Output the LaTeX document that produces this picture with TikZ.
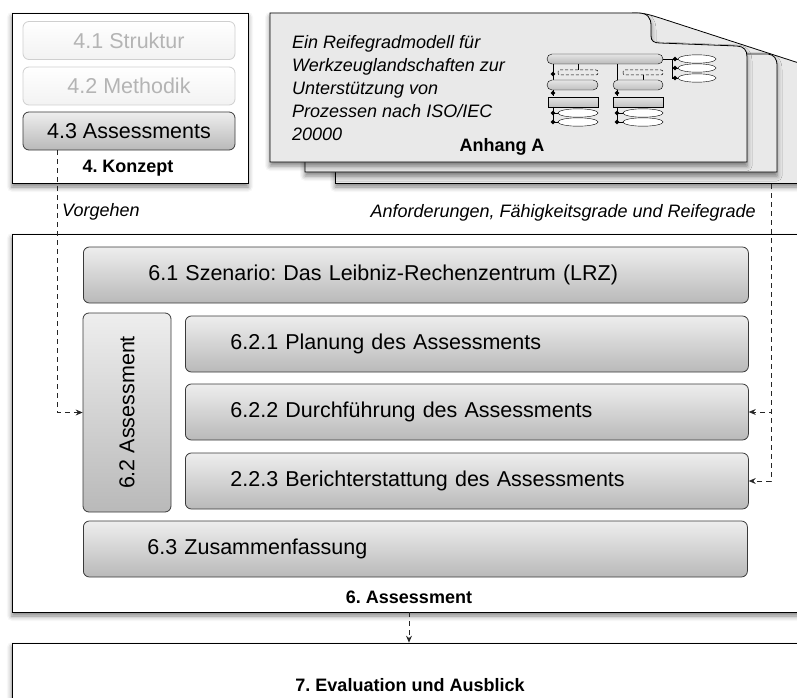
\documentclass[tikz,border=0pt]{standalone}
\usepackage{fontspec}
\setmainfont{Liberation Sans}
\usetikzlibrary{arrows.meta,shadows.blur,calc}
\frenchspacing
\definecolor{boxline}{HTML}{3A3A3A}
\definecolor{gtop}{HTML}{EEEEEE}
\definecolor{gbot}{HTML}{B9B9B9}
\definecolor{pagefill}{HTML}{E9E9E9}
\definecolor{paletext}{HTML}{B4B4B4}
\definecolor{paleline}{HTML}{CFCFCF}
\tikzset{
  boxfont/.style={font=\fontsize{21.5}{24}\selectfont},
  labfont/.style={font=\bfseries\fontsize{18}{21}\selectfont},
  itfont/.style={font=\itshape\fontsize{18}{23}\selectfont},
  softshadow/.style={blur shadow={shadow xshift=0pt, shadow yshift=-4pt, shadow blur radius=5pt, shadow opacity=50}},
  container/.style={draw=black, line width=0.8pt, fill=white, softshadow, inner sep=0pt},
  gradbase/.style={draw=boxline, line width=0.8pt, rounded corners=6pt, top color=gtop, bottom color=gbot, boxfont, text=black},
  gradbox/.style={gradbase, inner ysep=0pt, minimum height=56pt, anchor=west, align=left},
  palebox/.style={draw=paleline, line width=0.8pt, rounded corners=6pt, top color=white, bottom color=gray!10, text=paletext, boxfont, minimum width=212pt, minimum height=38pt},
  conn/.style={draw=black!85, line width=0.7pt, dash pattern=on 5pt off 4pt, -{Stealth[length=7pt,width=6pt,inset=2.5pt]}},
  pagebox/.style={fill=pagefill, draw=black, line width=0.8pt, softshadow},
  mini/.style={draw=black, line width=0.4pt},
  minidash/.style={draw=black, line width=0.5pt, dash pattern=on 3pt off 2pt, rounded corners=2pt},
}
\begin{document}
\begin{tikzpicture}[x=1pt,y=-1pt]
\useasboundingbox (0,0) rectangle (797,698);

% ---- 4. Konzept ----
\node[container, minimum width=236pt, minimum height=170pt] (konzept) at (130,98) {};
\node[palebox] (s41) at (129,40.5) {4.1 Struktur};
\node[palebox] (s42) at (129,86) {4.2 Methodik};
\node[gradbase, minimum width=212pt, minimum height=38pt, inner sep=0pt] (s43) at (129,131) {4.3 Assessments};
\node[labfont] (lkonzept) at (128,168) {4. Konzept};

% ---- pages (Anhang A) ----
\path[pagebox] (335,183) -- (335,65) -- (830,65) -- (830,183) -- cycle;
\path[fill=pagefill] (636,13) .. controls (646,13) and (650,15) .. (660,18) -- (805,65) -- (805,70) -- (651,50) -- (651,20) -- cycle;
\draw[black, line width=0.8pt] (632,13) .. controls (646,13) and (650,15) .. (660,18) -- (805,65);
\path[pagebox] (305,172) -- (305,53) -- (768,54) .. controls (774,55) and (777,58) .. (777,66) -- (777,172) -- cycle;
\path[pagebox] (270,162) -- (270,13) -- (638,13) .. controls (648,13) and (651,18) .. (651,26) -- (651,36) .. controls (651,41) and (654,43) .. (660,43) -- (737,46) .. controls (744,46.5) and (747,50) .. (747,57) -- (747,162) -- cycle;
\coordinate (pagebottom) at (771,184);

\node[itfont, anchor=north west, align=left, inner sep=0pt] (ptext) at (292,35) {Ein Reifegradmodell für\\Werkzeuglandschaften zur\\Unterstützung von\\Prozessen nach ISO/IEC\\20000};
\node[labfont] (anhang) at (502,147) {Anhang A};

% mini diagram
\shade[mini, rounded corners=5pt, top color=gray!20, bottom color=gray!55] (547,54) rectangle (663,64);
\draw[mini] (663,59) -- (672,59) -- (672,78);
\draw[mini] (672,68) -- (678,68) (672,78) -- (678,78) (672,59) -- (678,59);
\foreach \yy in {59,68,78} {\draw[mini, fill=white] (697,\yy) ellipse (19pt and 4.2pt);}
% left column
\draw[mini] (553,64) -- (553,80);
\draw[mini] (578,64) -- (578,70);
\draw[minidash] (558,70) rectangle (598,75);
\shade[mini, rounded corners=5pt, top color=gray!20, bottom color=gray!50] (547,80) rectangle (598,90);
\draw[mini] (553,90) -- (553,97);
\shade[mini, top color=gray!20, bottom color=gray!50] (548,97) rectangle (598,107);
\draw[mini] (553,107) -- (553,122) -- (558,122) (553,113) -- (558,113);
\foreach \yy in {113,122} {\draw[mini, fill=white] (578,\yy) ellipse (20pt and 4.2pt);}
% right column
\draw[mini] (617,64) -- (617,80);
\draw[minidash] (623,70) rectangle (663,75);
\draw[mini] (643,75) -- (643,80);
\shade[mini, rounded corners=5pt, top color=gray!20, bottom color=gray!50] (613,80) rectangle (663,90);
\draw[mini] (617,90) -- (617,97);
\shade[mini, top color=gray!20, bottom color=gray!50] (613,97) rectangle (663,107);
\draw[mini] (617,107) -- (617,122) -- (623,122) (617,113) -- (623,113);
\foreach \yy in {113,122} {\draw[mini, fill=white] (643,\yy) ellipse (20pt and 4.2pt);}
% diamonds
\foreach \px/\py in {675/59,675/68,675/78,553/74,553/93,553/113,553/122,617/93,617/113,617/122} {
  \fill[black] (\px,\py) ++(-2.4,0) -- ++(2.4,-2.4) -- ++(2.4,2.4) -- ++(-2.4,2.4) -- cycle;
}

% ---- labels between ----
\node[itfont, anchor=west, inner sep=0pt] (lvorgehen) at (62,212) {Vorgehen};
\node[itfont, anchor=east, inner sep=0pt] (lanf) at (756,213) {Anforderungen, Fähigkeitsgrade und Reifegrade};

% ---- 6. Assessment ----
\node[container, minimum width=800pt, minimum height=378pt] (c6) at (412,423) {};
\node[gradbox, inner xsep=65pt, text width=535pt] (s61) at (83,275) {6.1 Szenario: Das Leibniz-Rechenzentrum (LRZ)};
\node[gradbase, minimum width=88pt, minimum height=199pt, inner sep=0pt] (s62) at (127,412.5) {};
\node[boxfont, rotate=90, inner sep=0pt] (s62t) at (s62.center) {6.2 Assessment};
\node[gradbox, inner xsep=45pt, text width=473pt] (s621) at (185,344) {6.2.1 Planung des Assessments};
\node[gradbox, inner xsep=45pt, text width=473pt] (s622) at (185,412) {6.2.2 Durchführung des Assessments};
\node[gradbox, inner xsep=45pt, text width=473pt] (s623) at (185,481) {2.2.3 Berichterstattung des Assessments};
\node[gradbox, inner xsep=64pt, text width=536pt] (s63) at (83,549) {6.3 Zusammenfassung};
\node[labfont] (l6) at (409,597) {6. Assessment};

% ---- 7. Evaluation ----
\node[container, minimum width=800pt, minimum height=100pt] (c7) at (412,693) {};
\node[labfont] (l7) at (410,685) {7. Evaluation und Ausblick};

% ---- connectors ----
\coordinate (lx) at (57,0);
\draw[conn] (s43.south -| lx) |- (s62.west);
\draw[conn] (pagebottom) |- (s622.east);
\draw[conn] (pagebottom) |- (s623.east);
\coordinate (bx) at (409,0);
\draw[conn] (c6.south -| bx) -- (c7.north -| bx);
\end{tikzpicture}
\end{document}
